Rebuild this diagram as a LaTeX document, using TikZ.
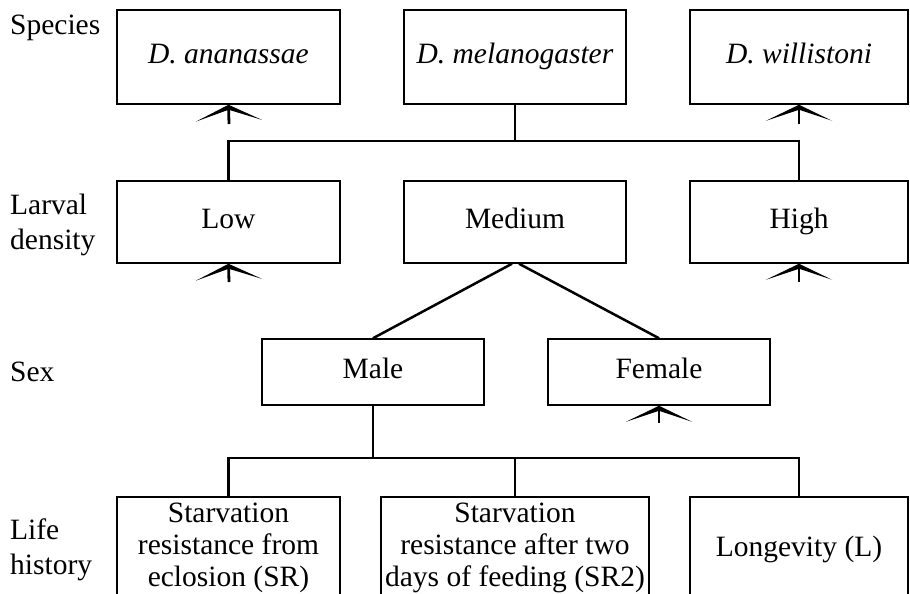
\documentclass[tikz,border=0pt]{standalone}
\usepackage{fontspec}
\setmainfont{Liberation Serif}
\usetikzlibrary{arrows.meta}
\begin{document}
\begin{tikzpicture}[x=1pt,y=-1pt,
 box/.style={draw, line width=1.5pt, inner sep=0pt, align=center, font=\fontsize{29.5}{32}\selectfont,
   execute at begin node=\strut, execute at end node=\strut},
 lab/.style={anchor=west, align=left, inner sep=0pt, font=\fontsize{29.5}{35}\selectfont},
 conn/.style={line width=2.5pt},
 chev/.style={line width=2.8pt, -{Stealth[length=16pt,width=66pt,inset=11pt,line width=0pt]}}]
\clip (0,0) rectangle (910,594);
\fill[white] (0,0) rectangle (910,594);
% row 1
\node[box, minimum width=223pt, minimum height=94pt] (sa) at (228.5,57) {\textit{D. ananassae}};
\node[box, minimum width=222pt, minimum height=94pt] (sm) at (515,57) {\textit{D. melanogaster}};
\node[box, minimum width=218pt, minimum height=94pt] (sw) at (799,57) {\textit{D. willistoni}};
% row 2
\node[box, minimum width=223pt, minimum height=82pt] (dl) at (228.5,222) {Low};
\node[box, minimum width=222pt, minimum height=82pt] (dm) at (515,222) {Medium};
\node[box, minimum width=218pt, minimum height=82pt] (dh) at (799,222) {High};
% row 3
\node[box, minimum width=222pt, minimum height=66pt] (male) at (373,372) {Male};
\node[box, minimum width=222pt, minimum height=66pt] (female) at (659,372) {Female};
% row 4
\node[box, minimum width=223pt, minimum height=106pt] (l1) at (228.5,550) {Starvation\\resistance from\\eclosion (SR)};
\node[box, minimum width=268pt, minimum height=106pt] (l2) at (515,550) {Starvation\\resistance after two\\days of feeding (SR2)};
\node[box, minimum width=218pt, minimum height=106pt] (l3) at (799,550) {Longevity (L)};
% labels
\node[lab] (tsp) at (10,28) {Species};
\node[lab] (tld) at (10,225) {Larval\\density};
\node[lab] (tsx) at (10,372) {Sex};
\node[lab] (tlh) at (10,550) {Life\\history};
% connectors
\coordinate (j1) at (515,141);
\draw[conn] (sm.south) -- (j1);
\draw[conn] (dl.north) -- (dl.north |- j1) -- (dh.north |- j1) -- (dh.north);
\draw[conn] ([xshift=-3pt]dm.south) -- (male.north);
\draw[conn] ([xshift=4pt]dm.south) -- (female.north);
\coordinate (j2) at (373,458);
\draw[conn] (male.south) -- (j2);
\draw[conn] (l1.north) -- (l1.north |- j2) -- (l3.north |- j2) -- (l3.north);
\draw[conn] (l2.north) -- (l2.north |- j2);
% chevrons
\coordinate (c1) at (229,124);
\coordinate (c2) at (799,124);
\coordinate (c3) at (229,282);
\coordinate (c4) at (799,282);
\coordinate (c5) at (659,423);
\draw[chev] (c1) -- (sa.south);
\draw[chev] (c2) -- (sw.south);
\draw[chev] (c3) -- (dl.south);
\draw[chev] (c4) -- (dh.south);
\draw[chev] (c5) -- (female.south);
\end{tikzpicture}
\end{document}
